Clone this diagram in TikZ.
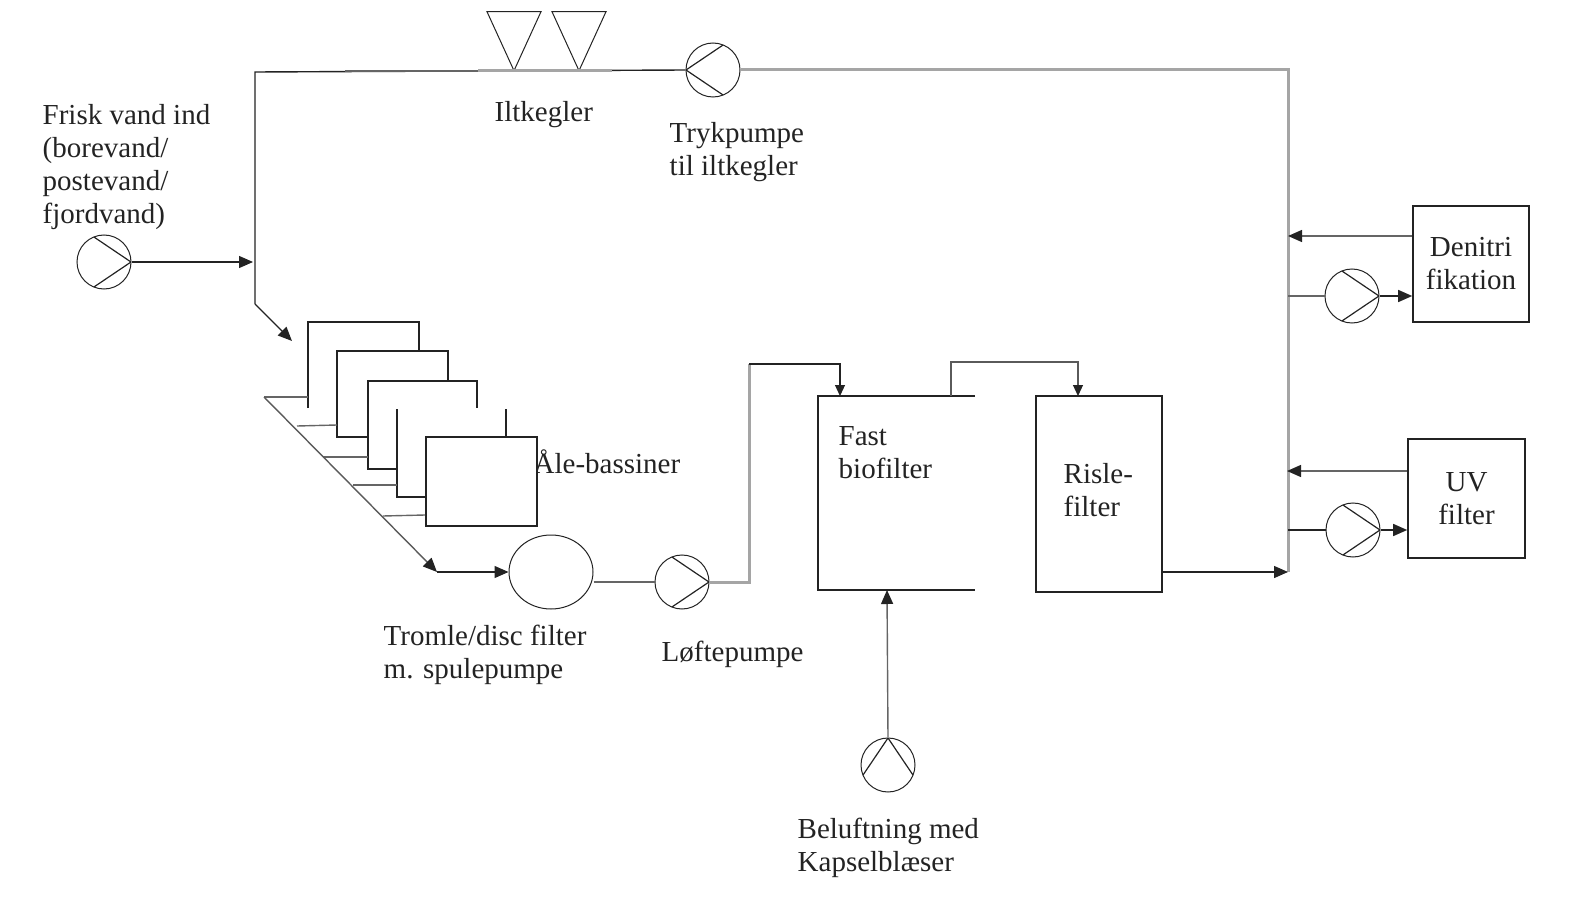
\documentclass[tikz,border=0pt]{standalone}
\usepackage{fontspec}
\setmainfont{Liberation Serif}
\usetikzlibrary{arrows.meta,positioning,shapes.geometric}
\definecolor{ink}{RGB}{35,35,35}
\definecolor{pipe}{RGB}{165,165,165}
\tikzset{
  every picture/.style={color=ink, line width=0.7pt, x=0.5pt, y=-0.5pt},
  lbl/.style={font=\fontsize{14.5}{16.5}\selectfont, text=ink, inner sep=0pt, align=left, anchor=west},
  box/.style={draw=ink, fill=white, line width=0.8pt, inner sep=0pt, align=center, font=\fontsize{14.5}{16.5}\selectfont},
  pump/.style={circle, draw=ink, line width=0.5pt, minimum size=27pt, inner sep=0pt, path picture={
    \draw[shift={(path picture bounding box.center)}, line width=0.6pt] (#1+112:13.5pt) -- (#1:13.5pt) -- (#1-112:13.5pt);}},
  filterdisc/.style={ellipse, draw=ink, line width=0.5pt, minimum width=42pt, minimum height=37pt, inner sep=0pt},
  cone/.style={isosceles triangle, isosceles triangle stretches, shape border rotate=-90, draw=ink, line width=0.5pt, inner sep=0pt, minimum height=29.5pt, minimum width=27pt, anchor=apex},
  flow/.style={-{Triangle[length=7pt,width=6pt,color=ink]}, line width=0.7pt},
  smallflow/.style={-{Triangle[length=5.5pt,width=5pt,color=ink]}, line width=0.6pt},
  thick pipe/.style={color=pipe, line width=1.5pt},
  tank/.style={draw=ink, line width=0.8pt},
  feed/.style={color=ink!70, line width=0.7pt},
}
\begin{document}
\begin{tikzpicture}
  \useasboundingbox (0,0) rectangle (1571,920);
  % fixed points of the pipe run
  \coordinate (topleft) at (255,72);
  \coordinate (topright) at (1288,70);
  \coordinate (botright) at (1288,572);
  \coordinate (kink) at (255,304);
  \coordinate (inlet) at (292,341);
  \coordinate (manifold) at (264,397);
  \coordinate (outlet) at (437,572);

  % labels first, the tanks lie over them
  \node[lbl] (freshlbl) at (42,167) {Frisk vand ind\\(borevand/\\postevand/\\fjordvand)};
  \node[lbl] (alelbl) at (533,462) {Åle-bassiner};
  \node[lbl] (conelbl) at (494,115) {Iltkegler};
  \node[lbl] (tryklbl) at (669,152) {Trykpumpe\\til iltkegler};
  \node[lbl] (tromlelbl) at (383,655) {Tromle/disc filter\\m. spulepumpe};
  \node[lbl] (loftelbl) at (661,654) {Løftepumpe};
  \node[lbl] (fastlbl) at (838,453) {Fast\\biofilter};
  \node[lbl] (rislelbl) at (1063,490.5) {Risle-\\filter};
  \node[lbl] (blowlbl) at (797,848) {Beluftning med\\Kapselblæser};

  % pumps and filters
  \node[pump=0] (fresh) at (104,262) {};
  \node[pump=180] (tryk) at (713,70) {};
  \node[pump=0] (lofte) at (682,582) {};
  \node[pump=90] (blower) at (888,765) {};
  \node[pump=0] (denipump) at (1352,296) {};
  \node[pump=0] (uvpump) at (1353,530) {};
  \node[filterdisc] (tromle) at (551,572) {};
  \node[cone] (cone1) at (514,72) {};
  \node[cone] (cone2) at (579,72) {};
  \node[box, minimum width=58pt, minimum height=58pt] (deni) at (1471,264) {Denitri\\fikation};
  \node[box, minimum width=58.5pt, minimum height=59.5pt] (uv) at (1466.5,498.5) {UV\\filter};
  \node[box, fill=none, minimum width=63pt, minimum height=98pt] (risle) at (1099,494) {};

  % the biofilter stands open to the right
  \coordinate (fastne) at (975,396);
  \coordinate (fastnw) at (818,396);
  \coordinate (fastsw) at (818,590);
  \coordinate (fastse) at (975,590);
  \draw[tank] (fastne) -- (fastnw) -- (fastsw) -- (fastse);

  % tanks, back to front
  \draw[tank] (308,408) -- (308,322) -- (419,322) -- (419,351);
  \draw[tank] (368,437) -- (337,437) -- (337,351) -- (448,351) -- (448,381);
  \draw[tank] (397,469) -- (368,469) -- (368,381) -- (477,381) -- (477,408);
  \draw[tank] (426,497) -- (397,497) -- (397,409);
  \draw[tank] (506,409) -- (506,437);
  \node[box, minimum width=55.5pt, minimum height=44.5pt] (tank5) at (481.5,481.5) {};
  \draw[feed] (manifold) -- (308,397);
  \draw[feed] (297,426) -- (337,425);
  \draw[feed] (323,457) -- (368,457);
  \draw[feed] (353,485) -- (397,485);
  \draw[feed] (383,516) -- (tank5.west |- 0,515);

  % pipe run
  \draw[flow] (fresh.east) -- (253,262);
  \draw (tryk.west) -- (topleft) -- (kink);
  \draw[flow] (kink) -- (inlet);
  \draw[feed] (345,71) -- (478,71);
  \draw[thick pipe] (478,71) -- (612,71);
  \draw[thick pipe] (tryk.east) -- (topright) -- (botright);
  \draw[flow, color=ink!75] (manifold) -- (outlet);
  \draw[flow] (outlet) -- (tromle.west);
  \draw[feed] (tromle.east |- lofte) -- (lofte.west);
  \draw[thick pipe] (lofte.east) -- (749,582) -- (749,364);
  \draw[smallflow] (749,364) -- (840,364) -- (840,396);
  \draw[smallflow, color=ink!75] (951,396) -- (951,362) -- (1078,362) -- (1078,396);
  \draw[flow, color=ink!70] (blower.north) -- (887,590);
  \draw[flow] (risle.east |- botright) -- (botright);

  % side streams on the return line
  \draw[flow, color=ink!70] (deni.west |- 0,236) -- (1288,236);
  \draw[feed] (topright |- denipump) -- (denipump.west);
  \draw[flow] (denipump.east) -- (deni.west |- denipump);
  \draw[flow, color=ink!70] (uv.west |- 0,471) -- (1287,471);
  \draw (topright |- uvpump) -- (uvpump.west);
  \draw[flow] (uvpump.east) -- (uv.west |- uvpump);
\end{tikzpicture}
\end{document}
